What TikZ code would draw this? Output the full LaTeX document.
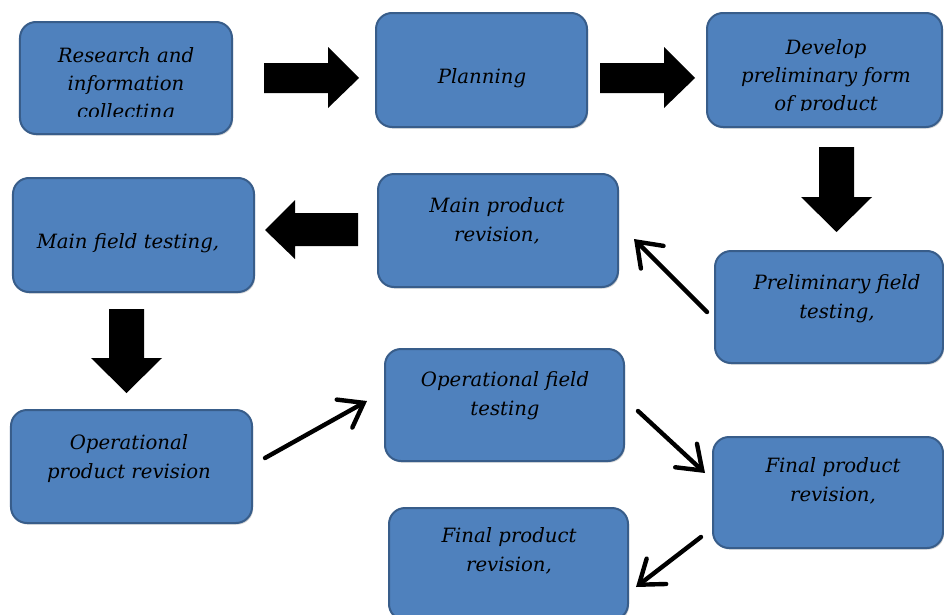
\documentclass[tikz,border=0pt]{standalone}
\usepackage{fontspec}
\setmainfont{DejaVu Serif}
\usetikzlibrary{arrows.meta,shadows}
\definecolor{boxfill}{RGB}{79,129,189}
\definecolor{boxline}{RGB}{56,93,138}
\begin{document}
\begin{tikzpicture}[x=0.25mm,y=-0.25mm,
  box/.style={draw=boxline, line width=0.5mm, fill=boxfill, rounded corners=4mm,
    inner sep=0pt, outer sep=0pt,
    drop shadow={shadow xshift=0.3mm, shadow yshift=-0.4mm, opacity=0.35}},
  lbl/.style={align=center, font=\fontsize{14}{20}\selectfont\itshape, inner sep=0pt, text=black},
  block/.style={fill=black},
  conn/.style={line width=1.1mm, line cap=round,
    -{Straight Barb[length=5.5mm,width=8mm,line cap=round]}}
]
\fill[white] (0,0) rectangle (944,614);
\useasboundingbox (0,0) rectangle (944,614);

% boxes
\node[box, minimum width=53mm,    minimum height=28mm]    (b1)  at (126,78)    {};
\node[box, minimum width=52.75mm, minimum height=28.5mm]  (b2)  at (481.5,70)  {};
\node[box, minimum width=58.75mm, minimum height=28.5mm]  (b3)  at (824.5,70)  {};
\node[box, minimum width=60.25mm, minimum height=28.5mm]  (b4)  at (133.5,235) {};
\node[box, minimum width=60mm,    minimum height=28.25mm] (b5)  at (498,230.5) {};
\node[box, minimum width=57mm,    minimum height=28mm]    (b6)  at (829,307)   {};
\node[box, minimum width=60.25mm, minimum height=28.25mm] (b7)  at (131.5,466.5) {};
\node[box, minimum width=59.75mm, minimum height=28mm]    (b8)  at (504.5,405) {};
\node[box, minimum width=57.5mm,  minimum height=27.75mm] (b9)  at (828,492.5) {};
\node[box, minimum width=59.75mm, minimum height=28mm]    (b10) at (508.5,564) {};

% labels
\begin{scope}
  \clip (20,22) rectangle (232,116);
  \node[lbl] (t1) at (126,84.5) {\strut Research and\\\strut information\\\strut collecting};
\end{scope}
\node[lbl] (t2) at (482,77.4) {\strut Planning};
\begin{scope}
  \clip (707,13) rectangle (942,110);
  \node[lbl] (t3) at (826,77) {\strut Develop\\\strut preliminary form\\\strut of product};
\end{scope}
\node[lbl] (t4) at (128,242.4) {\strut Main field testing,};
\node[lbl] (t5) at (497,221.4) {\strut Main product\\\strut revision,};
\node[lbl] (t6) at (837,298.4) {\strut Preliminary field\\\strut testing,};
\node[lbl] (t7) at (129,458.4) {\strut Operational\\\strut product revision};
\node[lbl] (t8) at (505,395.4) {\strut Operational field\\\strut testing};
\node[lbl] (t9) at (833,481.4) {\strut Final product\\\strut revision,};
\node[lbl] (t10) at (509,551.4) {\strut Final product\\\strut revision,};

% block arrows
\fill[block] (264,63) -- (328,63) -- (328,47) -- (359,78) -- (328,108) -- (328,93) -- (264,93) -- cycle;
\fill[block] (600,63) -- (664,63) -- (664,47) -- (695,78) -- (664,108) -- (664,93) -- (600,93) -- cycle;
\fill[block] (819,147) -- (854,147) -- (854,197) -- (872,197) -- (836.5,232) -- (801,197) -- (819,197) -- cycle;
\fill[block] (265,230) -- (295,200) -- (295,213) -- (358,213) -- (358,246) -- (295,246) -- (295,259) -- cycle;
\fill[block] (109,309) -- (144,309) -- (144,358) -- (162,358) -- (126.5,393) -- (91,358) -- (109,358) -- cycle;

% thin arrows
\coordinate (c1s) at (707,312); \coordinate (c1e) at (634,239);
\coordinate (c2s) at (265,458); \coordinate (c2e) at (367,401);
\coordinate (c3s) at (638,411); \coordinate (c3e) at (705,473);
\coordinate (c4s) at (701,537); \coordinate (c4e) at (636,587);
\draw[conn] (c1s) -- (c1e);
\draw[conn] (c2s) -- (c2e);
\draw[conn] (c3s) -- (c3e);
\draw[conn] (c4s) -- (c4e);
\end{tikzpicture}
\end{document}
